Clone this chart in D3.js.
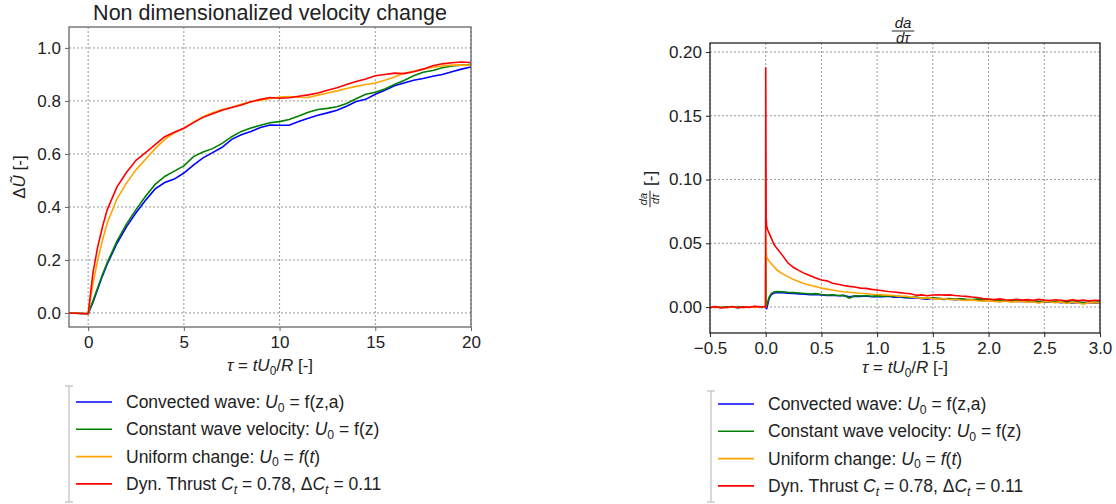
<html>
<head>
<style>
  body { margin: 0; background: #fff; }
  text { font-family: "Liberation Sans", Arial, sans-serif; fill: #222; }
  .grid line { stroke: #999; stroke-dasharray: 2,2; stroke-width: 1; }
</style>
<script src="https://d3js.org/d3.v7.min.js"></script>
</head>
<body>
<svg id="chart" width="1116" height="504"></svg>
<script>
// ---- left panel data: non dimensional velocity change vs tau ----
var tau1 = [-1, 0, 0.25, 0.5, 0.75, 1, 1.5, 2, 2.5, 3, 3.5, 4, 4.5, 5, 5.5, 6, 6.5, 7, 7.5, 8, 8.5, 9, 9.5, 10,
            10.5, 11, 11.5, 12, 12.5, 13, 13.5, 14, 14.5, 15, 15.5, 16, 16.5, 17, 17.5, 18, 18.5, 19, 19.5, 20];
var dU_convected = [0, -0.003, 0.04, 0.09, 0.14, 0.185, 0.262, 0.325, 0.378, 0.425, 0.468, 0.492, 0.505, 0.528, 0.558, 0.585,
            0.605, 0.625, 0.655, 0.672, 0.685, 0.700, 0.709, 0.708, 0.708, 0.722, 0.735, 0.746, 0.755, 0.765, 0.78, 0.798,
            0.806, 0.825, 0.84, 0.857, 0.868, 0.878, 0.885, 0.893, 0.9, 0.91, 0.92, 0.928];
var dU_constant = [0, -0.003, 0.045, 0.095, 0.145, 0.19, 0.27, 0.335, 0.39, 0.44, 0.485, 0.515, 0.535, 0.555, 0.59, 0.607,
            0.62, 0.64, 0.665, 0.685, 0.698, 0.708, 0.718, 0.722, 0.73, 0.743, 0.757, 0.768, 0.772, 0.778, 0.79, 0.808,
            0.825, 0.833, 0.845, 0.862, 0.877, 0.895, 0.908, 0.915, 0.925, 0.932, 0.935, 0.937];
var dU_uniform = [0, -0.003, 0.11, 0.2, 0.274, 0.34, 0.43, 0.49, 0.54, 0.58, 0.62, 0.655, 0.68, 0.697, 0.72, 0.74,
            0.755, 0.768, 0.776, 0.787, 0.797, 0.803, 0.808, 0.815, 0.817, 0.814, 0.813, 0.822, 0.83, 0.838, 0.847, 0.855,
            0.862, 0.868, 0.878, 0.89, 0.904, 0.912, 0.92, 0.927, 0.932, 0.935, 0.935, 0.935];
var dU_thrust = [0, -0.003, 0.15, 0.25, 0.325, 0.39, 0.475, 0.53, 0.576, 0.605, 0.635, 0.665, 0.682, 0.697, 0.718, 0.738,
            0.752, 0.765, 0.775, 0.785, 0.797, 0.806, 0.813, 0.81, 0.812, 0.818, 0.823, 0.83, 0.84, 0.85, 0.862, 0.873,
            0.883, 0.895, 0.9, 0.905, 0.903, 0.91, 0.92, 0.933, 0.94, 0.944, 0.947, 0.945];

// ---- right panel data: da/dtau vs tau ----
var tau2 = [-0.5, -0.45, -0.4, -0.35, -0.3, -0.25, -0.2, -0.15, -0.1, -0.05, -0.001, 0, 0.004, 0.008, 0.015, 0.03, 0.05, 0.075, 0.1,
            0.15, 0.2, 0.25, 0.3, 0.35, 0.4, 0.45, 0.5, 0.55, 0.6, 0.65, 0.7, 0.75, 0.8, 0.85, 0.9, 0.95, 1.0,
            1.05, 1.1, 1.15, 1.2, 1.25, 1.3, 1.35, 1.4, 1.45, 1.5, 1.55, 1.6, 1.65, 1.7, 1.75, 1.8, 1.85, 1.9, 1.95, 2.0,
            2.05, 2.1, 2.15, 2.2, 2.25, 2.3, 2.35, 2.4, 2.45, 2.5, 2.55, 2.6, 2.65, 2.7, 2.75, 2.8, 2.85, 2.9, 2.95, 3.0];
var da_convected = [0.0001, -0.0004, 0.0002, -0.0003, 0.0, -0.0005, 0.0002, -0.0002, 0.0003, -0.0003, 0.0,
            0.002, -0.001, -0.0012, 0.001, 0.0065, 0.0098, 0.0110, 0.0114,
            0.0112, 0.0108, 0.0106, 0.0103, 0.0100, 0.0097, 0.0099, 0.0094, 0.0090, 0.0092, 0.0088, 0.0089, 0.0080, 0.0085, 0.0083, 0.0086, 0.0080, 0.0083,
            0.0081, 0.0084, 0.0077, 0.0079, 0.0072, 0.0070, 0.0073, 0.0066, 0.0062, 0.0068,
            0.0064, 0.0060, 0.0063, 0.0058, 0.0061, 0.0056, 0.0054, 0.0058, 0.0051, 0.0053,
            0.0048, 0.0051, 0.0045, 0.0049, 0.0043, 0.0046, 0.0041, 0.0044, 0.0039, 0.0042,
            0.0037, 0.0040, 0.0034, 0.0038, 0.0032, 0.0036, 0.0031, 0.0035, 0.0030, 0.0034];
var da_constant = [-0.0003, 0.0001, -0.0005, 0.0002, -0.0002, 0.0003, -0.0004, 0.0, 0.0002, -0.0001, 0.0,
            0.040, 0.002, 0.0005, 0.003, 0.0075, 0.0105, 0.0118, 0.0122,
            0.0120, 0.0116, 0.0113, 0.0110, 0.0106, 0.0102, 0.0105, 0.0098, 0.0094, 0.0096, 0.0090, 0.0092, 0.0070, 0.0088, 0.0086, 0.0090, 0.0084, 0.0087,
            0.0085, 0.0088, 0.0082, 0.0084, 0.0076, 0.0074, 0.0078, 0.0070, 0.0066, 0.0072,
            0.0068, 0.0064, 0.0067, 0.0062, 0.0065, 0.0060, 0.0058, 0.0062, 0.0055, 0.0057,
            0.0052, 0.0055, 0.0049, 0.0053, 0.0047, 0.0050, 0.0045, 0.0048, 0.0043, 0.0046,
            0.0041, 0.0044, 0.0038, 0.0042, 0.0036, 0.0040, 0.0035, 0.0039, 0.0037, 0.0040];
var da_uniform = [0.0002, -0.0004, 0.0, -0.0006, 0.0003, -0.0002, -0.0005, 0.0001, -0.0003, 0.0002, 0.0,
            0.057, 0.042, 0.0395, 0.038, 0.036, 0.034, 0.0315, 0.029,
            0.026, 0.0238, 0.0215, 0.0198, 0.0182, 0.0170, 0.0160, 0.0148, 0.0140, 0.0133, 0.0125, 0.0120, 0.0116, 0.0112, 0.0108, 0.0106, 0.0100, 0.0098,
            0.0095, 0.0093, 0.0090, 0.0082, 0.0086, 0.0078, 0.0075, 0.0068, 0.0072, 0.0066,
            0.0062, 0.0065, 0.0058, 0.0061, 0.0055, 0.0052, 0.0056, 0.0049, 0.0046, 0.0050,
            0.0044, 0.0040, 0.0047, 0.0038, 0.0042, 0.0045, 0.0036, 0.0041, 0.0030, 0.0043,
            0.0039, 0.0034, 0.0040, 0.0028, 0.0037, 0.0033, 0.0022, 0.0036, 0.0031, 0.0035];
var da_thrust = [-0.0005, 0.0003, -0.0008, -0.0002, 0.0004, -0.0006, 0.0001, -0.0003, 0.0005, 0.0002, 0.0,
            0.188, 0.07, 0.064, 0.061, 0.058, 0.054, 0.049, 0.046,
            0.0405, 0.0345, 0.031, 0.0285, 0.0262, 0.0245, 0.0228, 0.0212, 0.0205, 0.0186, 0.0178, 0.0168, 0.0162, 0.0157, 0.0148, 0.0146, 0.0138, 0.0133,
            0.0128, 0.0122, 0.0118, 0.0113, 0.0108, 0.0104, 0.0092, 0.0095, 0.0088, 0.0094,
            0.0096, 0.0093, 0.0095, 0.0090, 0.0086, 0.0083, 0.0078, 0.0074, 0.0066, 0.0063,
            0.0058, 0.0064, 0.0057, 0.0055, 0.0061, 0.0054, 0.0058, 0.0052, 0.0060, 0.0055,
            0.0051, 0.0057, 0.0053, 0.0049, 0.0056, 0.0050, 0.0054, 0.0048, 0.0053, 0.0050];

var colors = ["blue", "green", "orange", "red"];
var x1ticks = [0, 5, 10, 15, 20];
var y1ticks = [0.0, 0.2, 0.4, 0.6, 0.8, 1.0];
var x2ticks = [-0.5, 0, 0.5, 1.0, 1.5, 2.0, 2.5, 3.0];
var y2ticks = [0.0, 0.05, 0.10, 0.15, 0.20];

// legend labels, parts: [text, italic, subscript]
var legendLabels = [
  [["Convected wave: "], ["U", 1], ["0", 0, 1], [" = f(z,a)"]],
  [["Constant wave velocity: "], ["U", 1], ["0", 0, 1], [" = f(z)"]],
  [["Uniform change: "], ["U", 1], ["0", 0, 1], [" = "], ["f", 1], ["("], ["t", 1], [")"]],
  [["Dyn. Thrust "], ["C", 1], ["t", 1, 1], [" = 0.78, Δ"], ["C", 1], ["t", 1, 1], [" = 0.11"]]
];
var xLabelParts = [["τ", 1], [" = "], ["tU", 1], ["0", 0, 1], ["/"], ["R", 1], [" [-]"]];

var svg = d3.select("#chart");

// writes parts into a text element (subscripts shifted down, next part shifted back)
function richText(sel, parts, size) {
  var back = 0;
  parts.forEach(function(p) {
    var t = sel.append("tspan").text(p[0]).attr("font-size", size);
    if (p[1]) t.style("font-style", "italic");
    if (p[2]) {
      t.attr("font-size", size * 0.7).attr("dy", size * 0.22);
      back = -size * 0.22;
    } else if (back) {
      t.attr("dy", back);
      back = 0;
    }
  });
}

function panel(o) {
  var x = d3.scaleLinear().domain(o.xd).range([o.left, o.right]);
  var y = d3.scaleLinear().domain(o.yd).range([o.bottom, o.top]);
  var g = svg.append("g");

  // grid
  var grid = g.append("g").attr("class", "grid");
  grid.selectAll(".gx").data(o.xt).enter().append("line")
    .attr("x1", d => x(d)).attr("x2", d => x(d)).attr("y1", o.top).attr("y2", o.bottom);
  grid.selectAll(".gy").data(o.yt).enter().append("line")
    .attr("y1", d => y(d)).attr("y2", d => y(d)).attr("x1", o.left).attr("x2", o.right);

  // lines
  g.append("clipPath").attr("id", o.id).append("rect")
    .attr("x", o.left).attr("y", o.top).attr("width", o.right - o.left).attr("height", o.bottom - o.top);
  var line = d3.line().x((d, i) => x(o.tau[i])).y(d => y(d));
  o.series.forEach(function(s, k) {
    g.append("path").attr("d", line(s)).attr("fill", "none")
      .attr("stroke", colors[k]).attr("stroke-width", 1.6).attr("clip-path", "url(#" + o.id + ")");
  });

  // axes
  var xa = g.append("g").attr("transform", "translate(0," + o.bottom + ")")
    .call(d3.axisBottom(x).tickValues(o.xt).tickFormat(o.xf).tickSize(4).tickPadding(5));
  var ya = g.append("g").attr("transform", "translate(" + o.left + ",0)")
    .call(d3.axisLeft(y).tickValues(o.yt).tickFormat(o.yf).tickSize(4).tickPadding(4));
  [xa, ya].forEach(function(a) {
    a.attr("font-size", 17).attr("font-family", "Liberation Sans, Arial, sans-serif");
    a.select(".domain").remove();
    a.selectAll("line").attr("stroke", o.frame);
    a.selectAll("text").attr("fill", "#222").attr("font-size", 17);
  });
  g.append("rect").attr("x", o.left).attr("y", o.top).attr("width", o.right - o.left).attr("height", o.bottom - o.top)
    .attr("fill", "none").attr("stroke", o.frame).attr("stroke-width", 1.3);

  // x label
  var xl = g.append("text").attr("x", (o.left + o.right) / 2).attr("y", o.xlabelY)
    .attr("text-anchor", "middle").attr("font-size", 17);
  richText(xl, xLabelParts, 17);

  // legend
  var lg = g.append("g");
  lg.append("path").attr("d", "M" + (o.lx - 4) + "," + o.ly0 + "H" + (o.lx + 4) + "M" + o.lx + "," + o.ly0 +
      "V" + o.ly1 + "M" + (o.lx - 4) + "," + o.ly1 + "H" + (o.lx + 4))
    .attr("stroke", "#ccc").attr("stroke-width", 1.5).attr("fill", "none");
  legendLabels.forEach(function(parts, k) {
    var yy = o.ly + k * 27.3;
    lg.append("line").attr("x1", o.lx + 7).attr("x2", o.lx + 43).attr("y1", yy).attr("y2", yy)
      .attr("stroke", colors[k]).attr("stroke-width", 1.6);
    var t = lg.append("text").attr("x", o.lx + 57).attr("y", yy + 6).attr("font-size", 17.5);
    richText(t, parts, 17.5);
  });
  return {x: x, y: y, g: g};
}

var p1 = panel({id: "c1", left: 69, right: 471, top: 27, bottom: 327, xd: [-1, 20], yd: [-0.053, 1.079],
  xt: x1ticks, yt: y1ticks, xf: d3.format("d"), yf: d3.format(".1f"), tau: tau1,
  series: [dU_convected, dU_constant, dU_uniform, dU_thrust], frame: "#666", xlabelY: 371,
  lx: 69, ly0: 386, ly1: 502, ly: 402});

var p2 = panel({id: "c2", left: 710, right: 1100, top: 43, bottom: 333, xd: [-0.5, 3.0], yd: [-0.0204, 0.2071],
  xt: x2ticks, yt: y2ticks, xf: d => d3.format(".1f")(d).replace("-", "\u2212"), yf: d3.format(".2f"), tau: tau2,
  series: [da_convected, da_constant, da_uniform, da_thrust], frame: "#222", xlabelY: 373,
  lx: 711, ly0: 391, ly1: 502, ly: 404});

// titles
svg.append("text").attr("x", 270).attr("y", 20).attr("text-anchor", "middle").attr("font-size", 21.5)
  .text("Non dimensionalized velocity change");

function fraction(g, cx, cy, size) {
  g.append("text").attr("x", cx).attr("y", cy - 3).attr("text-anchor", "middle").attr("font-size", size)
    .style("font-style", "italic").text("da");
  g.append("line").attr("x1", cx - size * 0.75).attr("x2", cx + size * 0.75).attr("y1", cy).attr("y2", cy)
    .attr("stroke", "#222").attr("stroke-width", 1);
  g.append("text").attr("x", cx).attr("y", cy + size * 0.8).attr("text-anchor", "middle").attr("font-size", size)
    .style("font-style", "italic").text("dτ");
}
fraction(svg.append("g"), 903, 31, 15);

// y labels
var yl1 = svg.append("text").attr("transform", "translate(25,177) rotate(-90)").attr("text-anchor", "middle")
  .attr("font-size", 17);
richText(yl1, [["Δ"], ["Ũ", 1], [" [-]"]], 17);

var yl2 = svg.append("g").attr("transform", "translate(650,190) rotate(-90)");
fraction(yl2, -9, 0, 11);
yl2.append("text").attr("x", 4).attr("y", 6).attr("font-size", 17).text("[-]");
</script>
</body>
</html>
